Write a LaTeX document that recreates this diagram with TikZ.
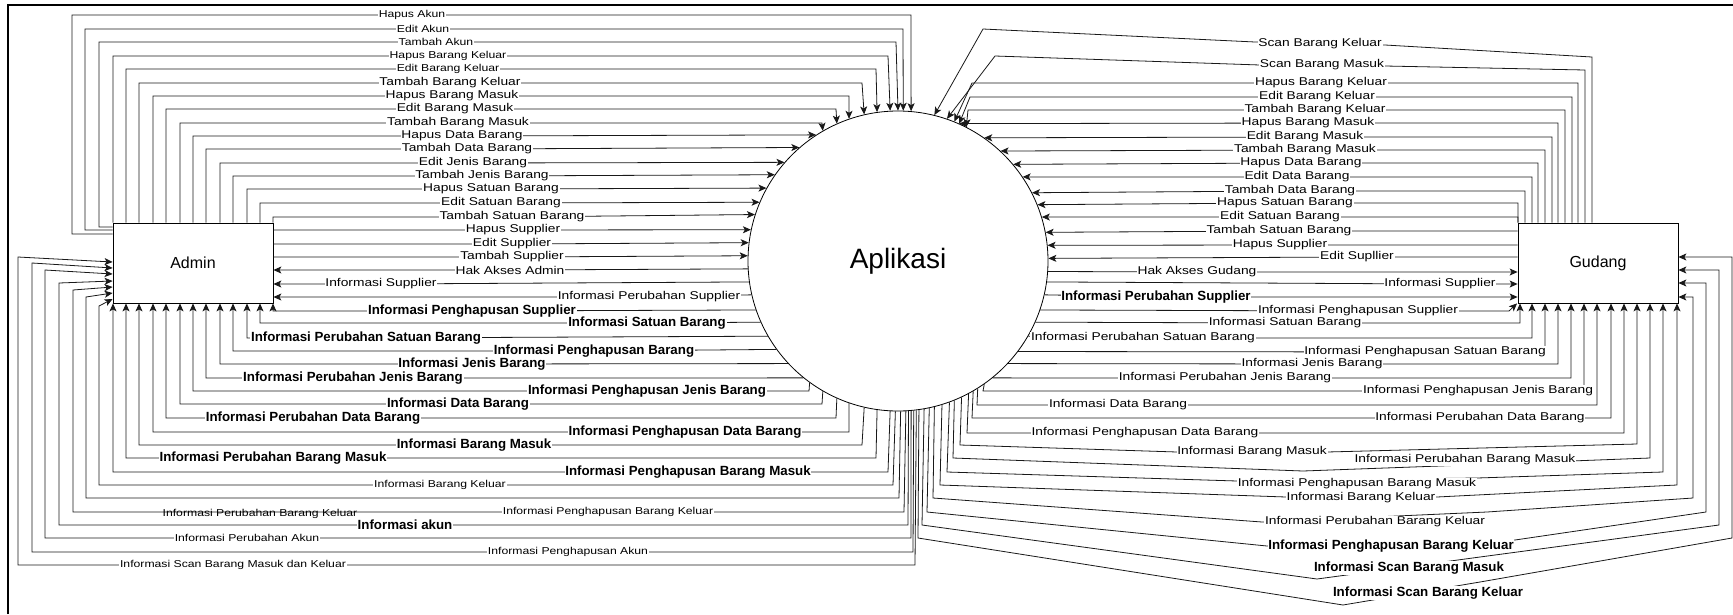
\documentclass[tikz,border=0pt]{standalone}
\usepackage{fontspec}
\setmainfont{Liberation Sans}
\newfontfamily\lblfont[FakeStretch=1.22]{Liberation Sans}
\usetikzlibrary{arrows.meta,calc}

\begin{document}
\begin{tikzpicture}[x=1pt,y=-1pt,
  flow/.style={draw=black!90, line width=0.8pt},
  arr/.style={flow, -{Stealth[length=8pt,width=7pt,inset=2pt]}},
  lbl/.style={fill=white, inner sep=0.8pt, font=\lblfont\fontsize{11.3}{12}\selectfont},
  lbls/.style={lbl, font=\lblfont\fontsize{10}{11}\selectfont},
  lblb/.style={fill=white, inner sep=0.8pt, font=\bfseries\fontsize{13.3}{14}\selectfont},
  entity/.style={draw, line width=0.8pt, minimum width=160pt, minimum height=80pt,
    inner sep=0pt, font=\fontsize{16}{18}\selectfont},
  process/.style={circle, draw, line width=0.8pt, minimum size=300pt, inner sep=0pt,
    font=\fontsize{28}{30}\selectfont}]

\useasboundingbox (0,0) rectangle (1733,614);
\draw[line width=1.6pt] (8,614) -- (8,5) -- (1733,5);

% processes and external entities
\node[process] (app) at (898,261) {Aplikasi};
\node[entity] (admin) at (193,263) {Admin};
\node[entity] (gudang) at (1598,263) {Gudang};

% ---------------- Admin -> Aplikasi ----------------
% account flows leave the left side of Admin and run over the top
\foreach \ey/\vx/\hy/\bx/\lx/\txt in {234/72/15/911/412/Hapus Akun,
  230/85/29/903/423/Edit Akun, 227/99/42/896/436/Tambah Akun}{
  \pgfmathsetmacro\ang{acos((\bx-898)/150)}
  \draw[arr] (admin.west |- 0,\ey) -- (\vx,\ey) -- (\vx,\hy) -- (\lx,\hy) node[lbls]{\txt}
    -- (\bx,\hy) -- (app.\ang);
}
% flows entering the circle from above
\foreach \vx/\hy/\bx/\lx/\st/\txt in {113/56/888/448/lbls/Hapus Barang Keluar,
  126/69/876/448/lbls/Edit Barang Keluar,
  139/83/862/450/lbl/Tambah Barang Keluar,
  153/96/849/452/lbl/Hapus Barang Masuk,
  166/109/836/455/lbl/Edit Barang Masuk,
  180/123/822/458/lbl/Tambah Barang Masuk}{
  \pgfmathsetmacro\ang{acos((\bx-898)/150)}
  \draw[arr] (admin.north -| \vx,0) -- (\vx,\hy) -- (\lx,\hy) node[\st]{\txt}
    -- (\bx,\hy) -- (app.\ang);
}
% flows entering the circle from the left
\foreach \vx/\hy/\lx/\txt in {193/136/462/Hapus Data Barang,
  206/149/467/Tambah Data Barang,
  220/163/473/Edit Jenis Barang,
  233/176/482/Tambah Jenis Barang,
  247/189/491/Hapus Satuan Barang,
  260/203/501/Edit Satuan Barang,
  273/217/512/Tambah Satuan Barang}{
  \pgfmathsetmacro\ang{180-asin((261-\hy)/150)}
  \draw[arr] (admin.north -| \vx,0) -- (\vx,\hy) -- (\lx,\hy) node[lbl]{\txt} -- (app.\ang);
}
\foreach \yy/\lx/\txt in {230/513/Hapus Supplier, 244/512/Edit Supplier,
  257/512/Tambah Supplier}{
  \pgfmathsetmacro\ang{180-asin((261-\yy)/150)}
  \draw[arr] (admin.east |- 0,\yy) -- (\lx,\yy) node[lbl]{\txt} -- (app.\ang);
}

% ---------------- Aplikasi -> Admin ----------------
\foreach \yy/\lx/\st/\txt in {270/510/lbl/Hak Akses Admin,
  284/381/lbl/Informasi Supplier,
  297/649/lbl/Informasi Perubahan Supplier}{
  \pgfmathsetmacro\ang{180-asin((261-\yy)/150)}
  \draw[arr] (app.\ang) -- (\lx,\yy) node[\st]{\txt} -- (admin.east |- 0,\yy);
}
\foreach \yy/\vx/\lx/\txt in {311/273/472/Informasi Penghapusan Supplier,
  323/260/647/Informasi Satuan Barang,
  338/247/366/Informasi Perubahan Satuan Barang,
  351/233/594/Informasi Penghapusan Barang,
  364/220/472/Informasi Jenis Barang,
  378/206/353/Informasi Perubahan Jenis Barang}{
  \pgfmathsetmacro\ang{180-asin((261-\yy)/150)}
  \draw[arr] (app.\ang) -- (\lx,\yy) node[lblb]{\txt} -- (\vx,\yy) -- (admin.south -| \vx,0);
}
\foreach \sx/\yy/\vx/\lx/\txt in {809/391/193/647/Informasi Penghapusan Jenis Barang,
  822/404/180/458/Informasi Data Barang,
  836/418/166/313/Informasi Perubahan Data Barang,
  849/432/153/685/Informasi Penghapusan Data Barang,
  862/445/139/474/Informasi Barang Masuk,
  876/458/126/273/Informasi Perubahan Barang Masuk,
  888/472/113/688/Informasi Penghapusan Barang Masuk}{
  \pgfmathsetmacro\ang{-acos((\sx-898)/150)}
  \draw[arr] (app.\ang) -- (\sx,\yy) -- (\lx,\yy) node[lblb]{\txt} -- (\vx,\yy)
    -- (admin.south -| \vx,0);
}
% flows that wrap round to the left side of Admin
\foreach \sx/\yy/\vx/\ty/\ey/\lx/\st/\txt in {893/485/99/306/299/440/lbls/Informasi Barang Keluar,
  908/525/59/283/281/405/lblb/Informasi akun,
  911/538/45/270/274/247/lbls/Informasi Perubahan Akun,
  913/552/32/263/268/568/lbls/Informasi Penghapusan Akun,
  915/565/18/257/262/233/lbls/Informasi Scan Barang Masuk dan Keluar}{
  \pgfmathsetmacro\ang{-acos((\sx-898)/150)}
  \draw[arr] (app.\ang) -- (\sx,\yy) -- (\lx,\yy) node[\st]{\txt} -- (\vx,\yy) -- (\vx,\ty)
    -- (admin.west |- 0,\ey);
}
\draw[arr] (app.-89.6) -- (899,498) -- (86,498) -- (86,297) -- (admin.west |- 0,293);
\draw[arr] (app.-87.6) -- (904,512) -- (608,512) node[lbls]{Informasi Penghapusan Barang Keluar}
  -- (260,512) node[lbls, fill=none, yshift=-2pt]{Informasi Perubahan Barang Keluar}
  -- (73,512) -- (73,290) -- (admin.west |- 0,287);

% ---------------- Gudang -> Aplikasi ----------------
\draw[arr] (gudang.north -| 1592,0) -- (1592,57) -- (1385,45) -- (1255,42) -- (983,29) -- (app.76.9)
  node[lbl] at (1320,44) {Scan Barang Keluar};
\draw[arr] (gudang.north -| 1585,0) -- (1585,70) -- (1385,66) -- (1260,65) -- (995,56) -- (app.71.7)
  node[lbl] at (1322,65) {Scan Barang Masuk};
\foreach \vx/\hy/\bx/\tx/\lx/\txt in {1578/83/972/952/1321/Hapus Barang Keluar,
  1572/97/970/959/1317/Edit Barang Keluar,
  1565/110/968/965/1315/Tambah Barang Keluar}{
  \pgfmathsetmacro\ang{acos((\tx-898)/150)}
  \draw[arr] (gudang.north -| \vx,0) -- (\vx,\hy) -- (\lx,\hy) node[lbl]{\txt} -- (\bx,\hy)
    -- (app.\ang);
}
\foreach \vx/\hy/\lx/\txt in {1558/123/1308/Hapus Barang Masuk,
  1552/137/1305/Edit Barang Masuk,
  1545/150/1305/Tambah Barang Masuk,
  1538/163/1301/Hapus Data Barang,
  1532/177/1297/Edit Data Barang,
  1525/191/1290/Tambah Data Barang,
  1518/203/1285/Hapus Satuan Barang,
  1518/217/1280/Edit Satuan Barang}{
  \pgfmathsetmacro\ang{asin((261-\hy)/150)}
  \draw[arr] (gudang.north -| \vx,0) -- (\vx,\hy) -- (\lx,\hy) node[lbl]{\txt} -- (app.\ang);
}
\foreach \yy/\lx/\txt in {231/1279/Tambah Satuan Barang, 245/1280/Hapus Supplier,
  257/1357/Edit Supllier}{
  \pgfmathsetmacro\ang{asin((261-\yy)/150)}
  \draw[arr] (gudang.west |- 0,\yy) -- (\lx,\yy) node[lbl]{\txt} -- (app.\ang);
}

% ---------------- Aplikasi -> Gudang ----------------
\foreach \yy/\lx/\st/\txt in {272/1197/lbl/Hak Akses Gudang,
  284/1440/lbl/Informasi Supplier,
  297/1156/lblb/Informasi Perubahan Supplier}{
  \pgfmathsetmacro\ang{asin((261-\yy)/150)}
  \draw[arr] (app.\ang) -- (\lx,\yy) node[\st]{\txt} -- (gudang.west |- 0,\yy);
}
\pgfmathsetmacro\ang{asin((261-311)/150)}
\draw[arr] (app.\ang) -- (1358,311) node[lbl]{Informasi Penghapusan Supplier} -- (1509,311)
  -- (gudang.south -| 1517,0);
\foreach \yy/\gx/\lx/\txt in {323/1520/1285/Informasi Satuan Barang,
  338/1532/1143/Informasi Perubahan Satuan Barang,
  352/1545/1425/Informasi Penghapusan Satuan Barang,
  364/1558/1312/Informasi Jenis Barang,
  378/1571/1225/Informasi Perubahan Jenis Barang}{
  \pgfmathsetmacro\ang{asin((261-\yy)/150)}
  \draw[arr] (app.\ang) -- (\lx,\yy) node[lbl]{\txt} -- (\gx,\yy) -- (gudang.south -| \gx,0);
}
\foreach \sx/\yy/\gx/\lx/\txt in {983/391/1584/1478/Informasi Penghapusan Jenis Barang,
  977/405/1597/1118/Informasi Data Barang,
  972/418/1611/1480/Informasi Perubahan Data Barang,
  967/433/1624/1145/Informasi Penghapusan Data Barang}{
  \pgfmathsetmacro\ang{-acos((\sx-898)/150)}
  \draw[arr] (app.\ang) -- (\sx,\yy) -- (\lx,\yy) node[lbl]{\txt} -- (\gx,\yy)
    -- (gudang.south -| \gx,0);
}
% sloping flows under the circle
\foreach \sx/\ys/\ax/\ay/\bx/\by/\gx/\gy/\lx/\ly/\txt in {
  960/445/1177/452/1327/452/1637/444/1252/452/Informasi Barang Masuk,
  953/458/1303/471/1440/466/1650/458/1465/460/Informasi Perubahan Barang Masuk,
  947/472/1237/481/1477/478/1663/472/1357/484/Informasi Penghapusan Barang Masuk,
  940/485/1286/497/1437/497/1677/485/1361/498/Informasi Barang Keluar}{
  \pgfmathsetmacro\ang{-acos((\sx-898)/150)}
  \draw[arr] (app.\ang) -- (\sx,\ys) -- (\ax,\ay) -- (\bx,\by) -- (\gx,\gy)
    node[lbl] at (\lx,\ly) {\txt} -- (gudang.south -| \gx,0);
}
\foreach \sx/\ys/\ax/\ay/\bx/\by/\gx/\gy/\ty/\lx/\ly/\st/\txt in {
  933/498/1262/522/1487/512/1693/498/297/1375/522/lbl/Informasi Perubahan Barang Keluar,
  927/512/1267/546/1515/540/1706/512/283/1391/546/lblb/Informasi Penghapusan Barang Keluar,
  922/525/1317/579/1480/557/1719/525/270/1409/568/lblb/Informasi Scan Barang Masuk,
  918/538/1343/605/1480/582/1732/538/257/1428/593/lblb/Informasi Scan Barang Keluar}{
  \pgfmathsetmacro\ang{-acos((\sx-898)/150)}
  \draw[arr] (app.\ang) -- (\sx,\ys) -- (\ax,\ay) -- (\bx,\by) -- (\gx,\gy)
    node[\st] at (\lx,\ly) {\txt} -- (\gx,\ty) -- (gudang.east |- 0,\ty);
}
\end{tikzpicture}
\end{document}
